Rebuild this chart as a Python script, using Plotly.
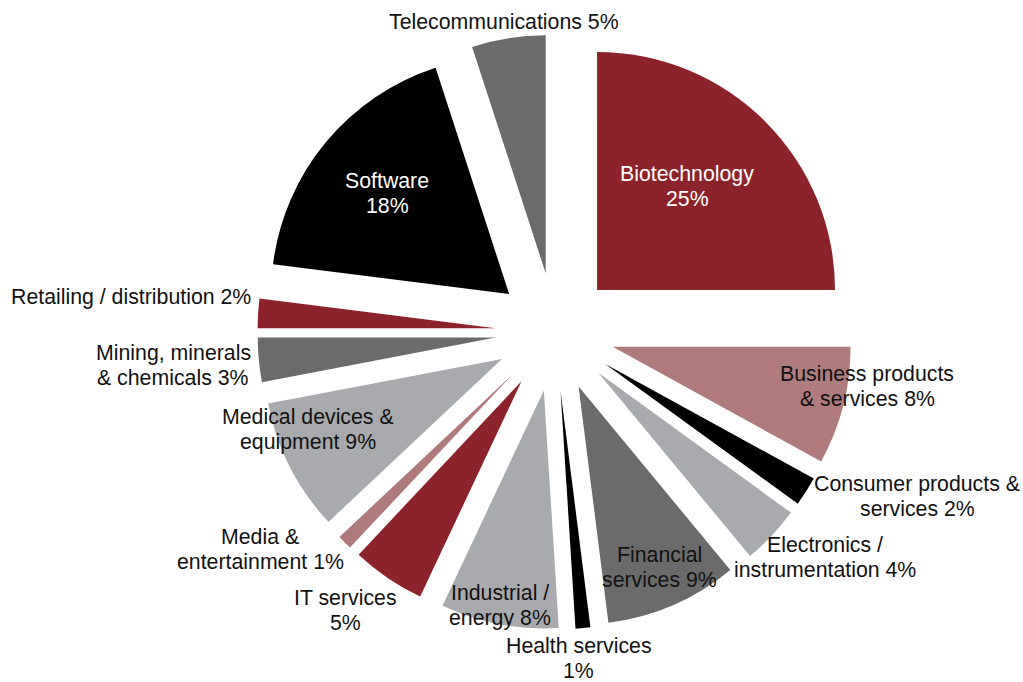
import plotly.graph_objects as go

# Share of deals by industry sector (%), clockwise from 12 o'clock
sectors = [
    "Biotechnology",
    "Business products & services",
    "Consumer products & services",
    "Electronics / instrumentation",
    "Financial services",
    "Health services",
    "Industrial / energy",
    "IT services",
    "Media & entertainment",
    "Medical devices & equipment",
    "Mining, minerals & chemicals",
    "Retailing / distribution",
    "Software",
    "Telecommunications",
]
shares = [25, 8, 2, 4, 9, 1, 8, 5, 1, 9, 3, 2, 18, 5]

# How each sector's label is broken into lines ("{v}" is the share)
label_lines = [
    ["Biotechnology", "{v}%"],
    ["Business products", "& services {v}%"],
    ["Consumer products &", "services {v}%"],
    ["Electronics /", "instrumentation {v}%"],
    ["Financial", "services {v}%"],
    ["Health services", "{v}%"],
    ["Industrial /", "energy {v}%"],
    ["IT services", "{v}%"],
    ["Media &", "entertainment {v}%"],
    ["Medical devices &", "equipment {v}%"],
    ["Mining, minerals", "& chemicals {v}%"],
    ["Retailing / distribution {v}%"],
    ["Software", "{v}%"],
    ["Telecommunications {v}%"],
]

# ---- styling ----
DARK_RED = "#8d232a"
ROSE = "#b07b7d"
BLACK = "#000000"
LIGHT_GREY = "#a9aaad"
DARK_GREY = "#6b6b6b"
slice_colors = [
    DARK_RED, ROSE, BLACK, LIGHT_GREY, DARK_GREY, BLACK, LIGHT_GREY,
    DARK_RED, ROSE, LIGHT_GREY, DARK_GREY, DARK_RED, BLACK, DARK_GREY,
]
label_colors = ["white" if c in ("Biotechnology", "Software") else "#111111"
                for c in sectors]

W, H = 1023, 682
FONT = "Arial, Liberation Sans, sans-serif"
FONT_SIZE = 21.3
LINE_GAP = 25

# label anchor (pixel x of the centre, pixel y of the first line)
label_anchor = [
    (687, 174), (867, 374), (917, 484), (825, 545), (659, 555),
    (578.5, 646), (500, 593), (345, 598), (260, 537), (307.5, 417),
    (173, 353), (131, 297), (387, 181), (504, 22),
]

fig = go.Figure(
    go.Pie(
        labels=sectors,
        values=shares,
        sort=False,
        direction="clockwise",
        rotation=0,
        pull=[0.25] * len(shares),
        marker=dict(colors=slice_colors, line=dict(width=0)),
        textinfo="none",
        hoverinfo="label+percent",
        domain=dict(x=[0.2425, 0.8425], y=[0.077, 0.9494]),
        showlegend=False,
    )
)

annotations = []
for lines, v, (px, py), col in zip(label_lines, shares, label_anchor, label_colors):
    for i, ln in enumerate(lines):
        annotations.append(dict(
            text=ln.format(v=v),
            x=px / W, y=1 - (py + i * LINE_GAP) / H,
            xref="paper", yref="paper",
            xanchor="center", yanchor="middle",
            showarrow=False,
            font=dict(family=FONT, size=FONT_SIZE, color=col),
        ))

fig.update_layout(
    width=W, height=H,
    margin=dict(l=0, r=0, t=0, b=0),
    paper_bgcolor="white",
    plot_bgcolor="white",
    annotations=annotations,
)

fig.write_html("out.html")
